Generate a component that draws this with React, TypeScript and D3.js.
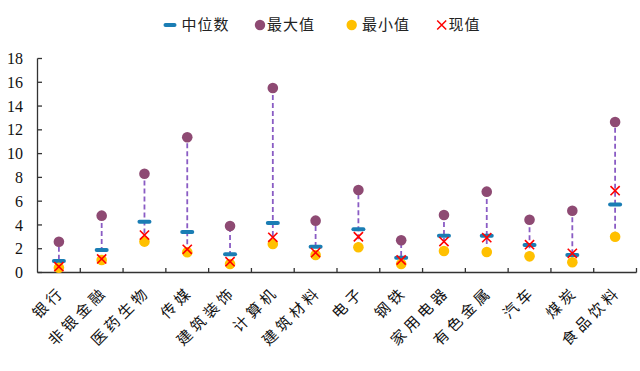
import React from "react";
import * as d3 from "d3";

const categories = ["银行", "非银金融", "医药生物", "传媒", "建筑装饰", "计算机", "建筑材料", "电子", "钢铁", "家用电器", "有色金属", "汽车", "煤炭", "食品饮料"];
const medianValues = [0.97, 1.89, 4.27, 3.41, 1.53, 4.16, 2.17, 3.63, 1.25, 3.1, 3.1, 2.31, 1.47, 5.73];
const maxValues = [2.59, 4.78, 8.31, 11.37, 3.91, 15.52, 4.36, 6.94, 2.71, 4.84, 6.8, 4.44, 5.2, 12.66];
const minValues = [0.4, 1.05, 2.6, 1.7, 0.71, 2.4, 1.47, 2.12, 0.71, 1.81, 1.72, 1.36, 0.86, 3.01];
const currentValues = [0.49, 1.14, 3.15, 1.95, 0.91, 2.96, 1.67, 3.01, 1.05, 2.6, 2.93, 2.34, 1.61, 6.88];
const yTicks = [0, 2, 4, 6, 8, 10, 12, 14, 16, 18];
const legendLabels = ["中位数", "最大值", "最小值", "现值"];

const W = 640, H = 371;
const left = 37.5, right = 636.5, top = 58.5, bottom = 272.5;
const C_MED = "#1A7DB4", C_MAX = "#8E4A73", C_MIN = "#FFC000", C_CUR = "#FF0000", C_LINE = "#8A5CC4";
const cjk = "'Noto Sans CJK SC', sans-serif";

export default function App() {
  const x = d3.scaleBand<string>().domain(categories).range([left, right]).padding(0);
  const y = d3.scaleLinear().domain([0, 18]).range([bottom, top]);
  const cx = (i: number) => (x(categories[i]) as number) + x.bandwidth() / 2;
  const xs = 4.6;
  const legendItems = [
    { mx: 170, tx: 181.5 },
    { mx: 260, tx: 267 },
    { mx: 351.7, tx: 362 },
    { mx: 441.7, tx: 448.5 },
  ];
  return (
    <svg width={W} height={H} style={{ position: "absolute", left: 0, top: 0 }}>
      <rect width={W} height={H} fill="#fff" />
      {/* legend */}
      {legendItems.map((l, i) => (
        <g key={i}>
          {i === 0 && <line x1={l.mx - 4.5} x2={l.mx + 4.5} y1={25} y2={25} stroke={C_MED} strokeWidth={4} strokeLinecap="round" />}
          {i === 1 && <circle cx={l.mx} cy={25} r={5.2} fill={C_MAX} />}
          {i === 2 && <circle cx={l.mx} cy={25} r={5.2} fill={C_MIN} />}
          {i === 3 && (
            <path d={`M${l.mx - 4.5},${25 - 4.5}L${l.mx + 4.5},${25 + 4.5}M${l.mx - 4.5},${25 + 4.5}L${l.mx + 4.5},${25 - 4.5}`} stroke={C_CUR} strokeWidth={1.5} />
          )}
          <text x={l.tx} y={25} dy="0.36em" fontFamily={cjk} fontSize={15} letterSpacing={1} fill="#222">{legendLabels[i]}</text>
        </g>
      ))}
      {/* axes */}
      <line x1={left} x2={left} y1={top} y2={bottom} stroke="#333" strokeWidth={1.3} />
      <line x1={left} x2={right} y1={bottom} y2={bottom} stroke="#333" strokeWidth={1.3} />
      {yTicks.map((t) => (
        <g key={t}>
          <line x1={left} x2={left + 4.5} y1={y(t)} y2={y(t)} stroke="#333" strokeWidth={1.3} />
          <text x={23} y={y(t)} dy="0.35em" textAnchor="end" fontFamily="'Liberation Serif', 'Times New Roman', serif" fontSize={16} fill="#111">{t}</text>
        </g>
      ))}
      {categories.map((c, i) => (
        <line key={c} x1={(x(c) as number) + x.bandwidth()} x2={(x(c) as number) + x.bandwidth()} y1={bottom} y2={bottom - 4.5} stroke="#333" strokeWidth={1.3} />
      ))}
      {categories.map((c, i) => (
        <text key={c} transform={`translate(${cx(i) + 3},${289}) rotate(-45)`} textAnchor="end" dy="0.35em" fontFamily={cjk} fontSize={15} letterSpacing={4} fill="#111">{c}</text>
      ))}
      {/* range lines */}
      {categories.map((c, i) => (
        <line key={c} x1={cx(i)} x2={cx(i)} y1={y(minValues[i])} y2={y(maxValues[i])} stroke={C_LINE} strokeWidth={1.8} strokeDasharray="5,3" />
      ))}
      {medianValues.map((v, i) => (
        <line key={i} x1={cx(i) - 5} x2={cx(i) + 5} y1={y(v)} y2={y(v)} stroke={C_MED} strokeWidth={4} strokeLinecap="round" />
      ))}
      {maxValues.map((v, i) => (
        <circle key={i} cx={cx(i)} cy={y(v)} r={5.3} fill={C_MAX} />
      ))}
      {minValues.map((v, i) => (
        <circle key={i} cx={cx(i)} cy={y(v)} r={5.3} fill={C_MIN} />
      ))}
      {currentValues.map((v, i) => (
        <path key={i} d={`M${cx(i) - xs},${y(v) - xs}L${cx(i) + xs},${y(v) + xs}M${cx(i) - xs},${y(v) + xs}L${cx(i) + xs},${y(v) - xs}`} stroke={C_CUR} strokeWidth={1.6} fill="none" />
      ))}
    </svg>
  );
}
